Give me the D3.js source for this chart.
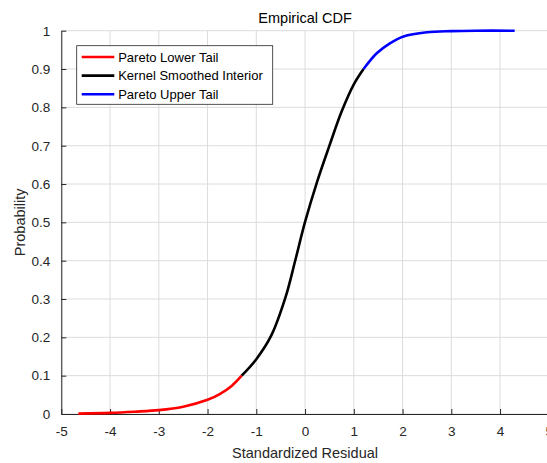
<!DOCTYPE html>
<html>
<head>
<meta charset="utf-8">
<script src="https://cdn.jsdelivr.net/npm/d3@7"></script>
<style>
  body { margin: 0; background: #fff; }
  svg { display: block; font-family: "Liberation Sans", Arial, sans-serif; }
</style>
</head>
<body>
<div id="chart"></div>
<script>
// Pareto lower tail
const lowerX = [-4.65, -4.0, -3.5, -3.0, -2.5, -2.0, -1.75, -1.5, -1.3];
const lowerP = [0.001, 0.003, 0.006, 0.010, 0.019, 0.037, 0.052, 0.074, 0.100];
// kernel smoothed interior
const interiorX = [-1.3, -1.0, -0.7, -0.4, -0.2, 0, 0.25, 0.5, 0.75, 1.0, 1.2];
const interiorP = [0.100, 0.143, 0.203, 0.305, 0.401, 0.501, 0.607, 0.700, 0.789, 0.860, 0.900];
// Pareto upper tail
const upperX = [1.2, 1.47, 1.74, 2.02, 2.5, 3.0, 3.5, 4.3];
const upperP = [0.900, 0.941, 0.967, 0.985, 0.996, 0.999, 1.0, 1.0];

const xTicks = [-5, -4, -3, -2, -1, 0, 1, 2, 3, 4, 5];
const yTicks = [0, 0.1, 0.2, 0.3, 0.4, 0.5, 0.6, 0.7, 0.8, 0.9, 1];

const seriesNames = ['Pareto Lower Tail', 'Kernel Smoothed Interior', 'Pareto Upper Tail'];
const seriesColors = ['#ff0000', '#000000', '#0000ff'];

const width = 547, height = 463;
const margin = { top: 30.7, right: -1.8, bottom: 49, left: 61.3 };
const axisColor = '#262626';

const svg = d3.select('#chart')
    .append('svg')
    .attr('width', width)
    .attr('height', height);

const x = d3.scaleLinear()
    .domain([-5, 5])
    .range([margin.left, width - margin.right]);

const y = d3.scaleLinear()
    .domain([0, 1])
    .range([height - margin.bottom, margin.top]);

// сетка
svg.append('g')
    .selectAll('line')
    .data(xTicks)
    .join('line')
    .attr('x1', d => x(d)).attr('x2', d => x(d))
    .attr('y1', y(0)).attr('y2', y(1))
    .attr('stroke', '#dcdcdc')
    .attr('stroke-width', 1);

svg.append('g')
    .selectAll('line')
    .data(yTicks)
    .join('line')
    .attr('x1', x(-5)).attr('x2', x(5))
    .attr('y1', d => y(d)).attr('y2', d => y(d))
    .attr('stroke', '#dcdcdc')
    .attr('stroke-width', 1);

// оси (тики внутрь, как в MATLAB), обычный дефис вместо минуса
const plain = d => String(d);

const xAxis = g => g
    .attr('transform', `translate(0,${y(0)})`)
    .call(d3.axisBottom(x).tickValues(xTicks).tickSize(-5).tickSizeOuter(0).tickPadding(12).tickFormat(plain))
    .call(g => g.select('.domain').attr('stroke', axisColor))
    .call(g => g.selectAll('.tick line').attr('stroke', axisColor))
    .call(g => g.selectAll('text')
        .style('font-size', '13.5px')
        .style('fill', axisColor));

const yAxis = g => g
    .attr('transform', `translate(${x(-5)},0)`)
    .call(d3.axisLeft(y).tickValues(yTicks).tickSize(-5).tickSizeOuter(0).tickPadding(11).tickFormat(plain))
    .call(g => g.select('.domain').attr('stroke', axisColor))
    .call(g => g.selectAll('.tick line').attr('stroke', axisColor))
    .call(g => g.selectAll('text')
        .style('font-size', '13.5px')
        .style('fill', axisColor));

svg.append('g').call(xAxis);
svg.append('g').call(yAxis);

// кривые
const line = d3.line()
    .x(d => x(d[0]))
    .y(d => y(d[1]))
    .curve(d3.curveCatmullRom.alpha(0.5));

const series = [
    d3.zip(lowerX, lowerP),
    d3.zip(interiorX, interiorP),
    d3.zip(upperX, upperP)
];

svg.append('g')
    .selectAll('path')
    .data(series)
    .join('path')
    .attr('fill', 'none')
    .attr('stroke', (_, i) => seriesColors[i])
    .attr('stroke-width', 2.6)
    .attr('stroke-linejoin', 'round')
    .attr('d', line);

// заголовок и подписи осей
svg.append('text')
    .attr('x', (x(-5) + x(5)) / 2)
    .attr('y', 23)
    .attr('text-anchor', 'middle')
    .style('font-size', '14.5px')
    .style('fill', '#000')
    .text('Empirical CDF');

svg.append('text')
    .attr('x', (x(-5) + x(5)) / 2)
    .attr('y', 458)
    .attr('text-anchor', 'middle')
    .style('font-size', '14.5px')
    .style('fill', axisColor)
    .text('Standardized Residual');

svg.append('text')
    .attr('transform', `translate(25,${(y(0) + y(1)) / 2}) rotate(-90)`)
    .attr('text-anchor', 'middle')
    .style('font-size', '14.5px')
    .style('fill', axisColor)
    .text('Probability');

// легенда
const legend = svg.append('g')
    .attr('transform', 'translate(76.7,45.7)');

legend.append('rect')
    .attr('width', 196)
    .attr('height', 58.6)
    .attr('fill', '#fff')
    .attr('stroke', axisColor)
    .attr('stroke-width', 0.8);

const rows = legend.selectAll('.row')
    .data(seriesNames)
    .join('g')
    .attr('class', 'row')
    .attr('transform', (_, i) => `translate(0,${11.3 + i * 18.6})`);

rows.append('line')
    .attr('x1', 5).attr('x2', 37.6)
    .attr('stroke', (_, i) => seriesColors[i])
    .attr('stroke-width', 2.6);

rows.append('text')
    .attr('x', 41.5)
    .attr('dy', '0.35em')
    .style('font-size', '13px')
    .style('fill', '#000')
    .text(d => d);
</script>
</body>
</html>
